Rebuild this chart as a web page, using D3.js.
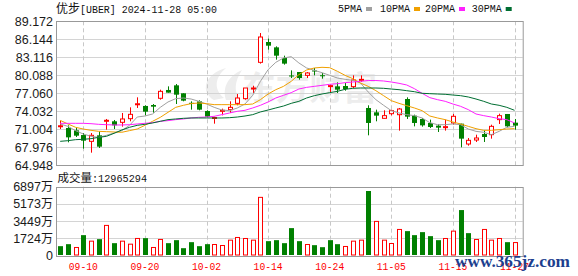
<!DOCTYPE html>
<html>
<head>
<meta charset="utf-8">
<script src="https://cdn.jsdelivr.net/npm/d3@7"></script>
<style>
  body { margin: 0; background: #fff; }
  svg { display: block; }
</style>
</head>
<body>
<svg id="chart" width="578" height="276"></svg>
<script>
// trading days shown (2024)
const dates = [
  "09-05","09-06","09-09","09-10","09-11","09-12","09-13","09-16","09-17","09-18",
  "09-19","09-20","09-23","09-24","09-25","09-26","09-27","09-30","10-01","10-02",
  "10-03","10-04","10-07","10-08","10-09","10-10","10-11","10-14","10-15","10-16",
  "10-17","10-18","10-21","10-22","10-23","10-24","10-25","10-28","10-29","10-30",
  "10-31","11-01","11-04","11-05","11-06","11-07","11-08","11-11","11-12","11-13",
  "11-14","11-15","11-18","11-19","11-20","11-21","11-22","11-25","11-26","11-27"
];

const open = [
  71.45,71.22,70.83,70.04,68.98,69.99,72.48,72.35,72.18,72.79,
  75.24,74.93,75.09,76.22,77.62,78.40,77.06,75.46,75.71,74.08,
  72.95,74.15,74.31,75.37,76.16,77.90,82.27,85.69,84.79,83.00,
  80.06,80.64,80.08,80.90,80.10,78.30,78.23,78.29,78.18,79.38,
  74.59,73.86,72.85,73.63,73.46,76.10,73.30,72.74,72.07,71.62,
  71.40,72.07,71.95,68.53,69.20,70.21,70.10,72.63,73.58,72.12
];
const high = [
  72.45,71.67,71.22,70.38,70.38,70.66,72.74,72.57,73.75,74.70,
  76.38,75.04,75.26,77.67,78.23,78.62,77.06,75.71,75.88,74.20,
  73.13,74.48,75.71,76.94,77.95,78.34,87.20,86.25,84.96,83.39,
  80.92,80.64,80.64,81.32,80.48,78.51,78.90,78.79,80.08,80.08,
  75.04,74.31,74.20,74.31,74.59,76.38,73.47,72.91,72.63,71.90,
  72.63,73.58,71.95,69.54,70.10,70.83,71.78,73.63,73.58,72.74
];
const low = [
  71.05,68.81,69.71,67.75,67.07,67.86,70.94,71.05,71.45,72.35,
  74.59,73.35,73.80,75.99,77.17,75.26,75.71,74.31,74.20,73.02,
  71.95,73.35,73.75,75.04,75.99,77.11,82.05,84.40,82.72,81.88,
  79.63,79.35,79.63,80.08,79.52,77.11,77.11,77.50,77.95,78.96,
  69.99,72.35,72.85,73.35,70.78,72.74,71.50,71.45,71.22,70.55,
  70.78,71.78,67.97,68.25,68.87,68.87,69.43,71.90,71.34,70.94
];
const close = [
  71.60,69.65,69.93,69.09,69.99,68.08,72.52,71.67,72.74,73.52,
  75.30,73.97,74.81,77.39,77.17,76.83,75.82,75.40,74.31,73.13,
  72.99,74.20,74.70,76.27,77.95,77.95,86.53,85.07,83.39,82.05,
  80.00,79.63,80.48,80.85,80.08,78.35,77.67,77.78,79.30,79.41,
  72.07,73.30,73.30,74.14,74.42,73.13,72.07,71.67,71.39,71.28,
  71.45,73.19,69.43,69.15,69.54,69.71,71.50,73.30,71.50,71.62
];

const ma5 = [
  71.90,71.50,70.78,70.21,69.82,69.65,69.99,70.38,70.78,71.67,
  73.07,73.24,73.58,74.70,75.60,76.16,76.27,76.10,75.71,75.26,
  74.70,74.25,74.14,74.59,75.26,76.72,79.07,81.04,82.27,83.00,
  83.22,82.16,81.32,80.92,80.53,80.08,79.63,79.41,79.24,78.79,
  77.28,75.99,75.04,74.14,73.75,73.47,73.30,72.91,72.12,71.78,
  71.78,71.90,71.78,71.05,70.66,70.50,70.10,70.66,71.34,71.50
];
const ma10 = [
  72.51,71.90,71.34,71.05,70.83,70.66,70.61,70.55,70.50,70.78,
  71.05,71.67,72.35,73.02,73.86,74.70,75.04,75.32,75.43,75.32,
  75.15,75.15,75.15,75.15,75.15,75.26,75.99,76.94,77.67,78.23,
  79.07,80.20,80.98,81.32,81.43,81.37,80.76,80.08,79.52,78.79,
  78.23,77.50,76.66,75.82,75.37,74.98,74.59,74.14,73.24,72.91,
  72.63,72.23,71.90,71.50,71.11,70.83,70.83,70.94,71.05,71.11
];
const ma20 = [
  72.01,72.01,72.01,72.01,71.95,71.84,71.78,71.73,71.73,71.78,
  71.90,72.01,72.12,72.35,72.46,72.63,72.74,72.91,73.02,73.07,
  73.19,73.47,73.75,74.03,74.20,74.59,75.04,75.60,76.27,76.72,
  77.17,77.78,78.06,78.23,78.40,78.57,78.68,78.85,78.96,79.07,
  79.21,79.21,79.13,78.96,78.74,78.46,77.84,77.06,76.33,75.99,
  75.71,75.26,74.87,74.31,73.58,73.30,73.07,72.79,72.63,72.07
];
const ma30 = [
  68.98,69.09,69.26,69.32,69.43,69.65,69.82,70.33,70.89,71.34,
  71.67,71.84,72.07,72.35,72.63,72.74,72.85,72.91,72.91,72.91,
  72.91,72.91,72.96,73.07,73.24,73.47,73.92,74.25,74.59,74.92,
  75.37,75.71,76.27,76.66,76.94,77.17,77.39,77.73,77.90,77.95,
  77.95,77.95,77.90,77.78,77.67,77.50,77.33,77.06,77.00,76.94,
  76.89,76.77,76.66,76.44,76.10,75.71,75.26,75.04,74.70,74.20
];

// volume in 万 shares, and whether the bar is drawn red (close above previous close)
const volume = [
  935,1136,804,2041,1438,1639,3016,1237,1438,1136,
  1709,1739,804,1609,1237,1538,734,1337,935,1136,
  1103,1002,1538,1807,1706,1538,5828,1438,1538,1237,
  2745,1438,1103,1036,834,1538,1136,905,1438,1538,
  6465,3418,1538,1203,2611,2443,2041,2343,1940,1538,
  1706,2443,4554,2242,1605,2611,1538,1706,1337,1297
];
const volumeUp = [
  0,0,1,0,1,0,1,0,1,1,
  1,0,1,1,0,0,0,0,0,0,
  1,1,1,1,1,1,1,0,0,0,
  0,0,1,0,0,0,0,1,1,1,
  0,1,1,1,1,0,0,0,0,0,
  1,1,0,0,1,1,1,1,0,1
];
const lastVolume = "12965294";

const priceTicks = [64.948, 67.976, 71.004, 74.032, 77.060, 80.088, 83.116, 86.144, 89.172];
const volumeTicks = [0, 1724, 3449, 5173, 6897];
const dateTicks = ["09-10","09-20","10-02","10-14","10-24","11-05","11-15","11-27"];

const maSeries = [
  { name: "5PMA", values: ma5, color: "#a0a0a0" },
  { name: "10PMA", values: ma10, color: "#f0a000" },
  { name: "20PMA", values: ma20, color: "#ff20ff" },
  { name: "30PMA", values: ma30, color: "#006e32" }
];

const UP = "#ff0000", DOWN = "#008000";
const left = 56, right = 522.7;
const priceTop = 21.3, priceBottom = 165.3;
const volTop = 186.7, volBottom = 255.5;

const svg = d3.select("#chart");

const x = d3.scalePoint().domain(dates).range([60.2, 514.5]);
const y = d3.scaleLinear().domain([64.948, 89.172]).range([priceBottom, priceTop]);
const yv = d3.scaleLinear().domain([0, 6897]).range([volBottom, volTop]);
const cx = (i) => Math.round(x(dates[i])) + 0.5;

// watermark
let wm = svg.append("g").attr("fill", "#ededed");
wm.append("path")
  .attr("d", "M214,100 C200,92 204,74 226,68 C214,78 214,90 224,98 Z M226,100 C222,88 228,76 242,70 C234,82 234,92 240,100 Z");
wm.append("text")
  .attr("x", 242).attr("y", 100)
  .attr("font-family", "'Noto Sans CJK SC'")
  .attr("font-size", 33).attr("font-weight", "bold")
  .attr("textLength", 135).attr("lengthAdjust", "spacingAndGlyphs")
  .text("东方财富");

// horizontal grid
svg.append("g").selectAll("line")
  .data(priceTicks.slice(1, -1))
  .enter().append("line")
  .attr("x1", left).attr("x2", right)
  .attr("y1", (d) => Math.round(y(d)) + 0.5).attr("y2", (d) => Math.round(y(d)) + 0.5)
  .attr("stroke", "#d4d4d4");

svg.append("g").selectAll("line")
  .data(volumeTicks.slice(1, -1))
  .enter().append("line")
  .attr("x1", left).attr("x2", right)
  .attr("y1", (d) => Math.round(yv(d)) + 0.5).attr("y2", (d) => Math.round(yv(d)) + 0.5)
  .attr("stroke", "#d4d4d4");

// vertical dashed grid in both panels
[[priceTop, priceBottom], [volTop, volBottom]].forEach((span) => {
  svg.append("g").selectAll("line")
    .data(dateTicks)
    .enter().append("line")
    .attr("x1", (d) => Math.round(x(d)) + 0.5).attr("x2", (d) => Math.round(x(d)) + 0.5)
    .attr("y1", span[0]).attr("y2", span[1])
    .attr("stroke", "#c8c8c8")
    .attr("stroke-dasharray", "4,3");
});

// panel borders
svg.append("rect")
  .attr("x", left + 0.5).attr("y", Math.round(priceTop) + 0.5)
  .attr("width", right - left).attr("height", Math.round(priceBottom) - Math.round(priceTop))
  .attr("fill", "none").attr("stroke", "#999");
svg.append("rect")
  .attr("x", left + 0.5).attr("y", Math.round(volTop) + 0.5)
  .attr("width", right - left).attr("height", Math.round(volBottom) - Math.round(volTop))
  .attr("fill", "none").attr("stroke", "#999");

// candles
let candles = svg.append("g")
  .selectAll("g")
  .data(dates.map((d, i) => i))
  .enter()
  .append("g");

candles.append("line")
  .attr("x1", (i) => cx(i)).attr("x2", (i) => cx(i))
  .attr("y1", (i) => y(high[i])).attr("y2", (i) => y(low[i]))
  .attr("stroke", (i) => (close[i] >= open[i] ? UP : DOWN));

candles.append("rect")
  .attr("x", (i) => cx(i) - 2.5 + (close[i] >= open[i] ? 0.5 : 0))
  .attr("y", (i) => y(Math.max(open[i], close[i])))
  .attr("width", (i) => (close[i] >= open[i] ? 4 : 5))
  .attr("height", (i) => Math.max(1, Math.abs(y(open[i]) - y(close[i]))))
  .attr("fill", (i) => (close[i] >= open[i] ? "#fff" : DOWN))
  .attr("stroke", (i) => (close[i] >= open[i] ? UP : "none"));

// moving averages
let maLine = d3.line()
  .x((v, i) => x(dates[i]))
  .y((v) => y(v));

svg.append("g").selectAll("path")
  .data(maSeries)
  .enter().append("path")
  .attr("d", (s) => maLine(s.values))
  .attr("fill", "none")
  .attr("stroke", (s) => s.color)
  .attr("stroke-width", 1);

// volume bars
svg.append("g").selectAll("rect")
  .data(volume)
  .enter().append("rect")
  .attr("x", (v, i) => cx(i) - 2.5 + (volumeUp[i] ? 0.5 : 0))
  .attr("y", (v) => yv(v))
  .attr("width", (v, i) => (volumeUp[i] ? 4 : 5))
  .attr("height", (v) => yv(0) - yv(v) - 0.5)
  .attr("fill", (v, i) => (volumeUp[i] ? "#fff" : DOWN))
  .attr("stroke", (v, i) => (volumeUp[i] ? UP : "none"));

// price axis labels
svg.append("g").selectAll("text")
  .data(priceTicks)
  .enter().append("text")
  .attr("x", 53).attr("y", (d) => y(d) + 4.5)
  .attr("text-anchor", "end")
  .attr("font-family", "'Liberation Sans', Arial, sans-serif")
  .attr("font-size", 12.5)
  .attr("fill", "#1a1a1a")
  .text((d) => d.toFixed(3));

// volume axis labels
let vLabels = svg.append("g").selectAll("text")
  .data(volumeTicks)
  .enter().append("text")
  .attr("x", 53).attr("y", (d) => yv(d) + 4.5)
  .attr("text-anchor", "end")
  .attr("font-family", "'Liberation Sans', Arial, sans-serif")
  .attr("font-size", 12.5)
  .attr("fill", "#1a1a1a");
vLabels.append("tspan").text((d) => d);
vLabels.filter((d) => d > 0).append("tspan")
  .attr("font-family", "'Noto Sans CJK SC'")
  .attr("font-size", 12)
  .text("万");

// date labels
svg.append("g").selectAll("text")
  .data(dateTicks)
  .enter().append("text")
  .attr("x", (d) => x(d)).attr("y", 270)
  .attr("text-anchor", "middle")
  .attr("font-family", "'Liberation Mono', monospace")
  .attr("font-size", 11)
  .attr("textLength", 29).attr("lengthAdjust", "spacingAndGlyphs")
  .attr("fill", "#ff0000")
  .text((d) => d);

// title
let title = svg.append("text")
  .attr("x", 56).attr("y", 12.5)
  .attr("fill", "#111");
title.append("tspan")
  .attr("font-family", "'Noto Sans CJK SC'")
  .attr("font-size", 12)
  .text("优步");
title.append("tspan")
  .attr("font-family", "'Liberation Mono', monospace")
  .attr("font-size", 11)
  .attr("textLength", 137).attr("lengthAdjust", "spacingAndGlyphs")
  .text("[UBER] 2024-11-28 05:00");

// legend
let legendX = [338, 380, 425, 471.7];
let legend = svg.append("g").selectAll("g")
  .data(maSeries)
  .enter().append("g")
  .attr("transform", (s, i) => "translate(" + legendX[i] + ",0)");
legend.append("text")
  .attr("x", 0).attr("y", 12)
  .attr("font-family", "'Liberation Mono', monospace")
  .attr("font-size", 10)
  .attr("fill", "#111")
  .text((s) => s.name);
legend.append("rect")
  .attr("x", (s) => s.name.length * 6 + 4).attr("y", 7)
  .attr("width", 6).attr("height", 4)
  .attr("fill", (s) => s.color);

// volume header
let vTitle = svg.append("text")
  .attr("x", 57.5).attr("y", 182)
  .attr("fill", "#111");
vTitle.append("tspan")
  .attr("font-family", "'Noto Sans CJK SC'")
  .attr("font-size", 11.5)
  .text("成交量");
vTitle.append("tspan")
  .attr("font-family", "'Liberation Mono', monospace")
  .attr("font-size", 10.5)
  .attr("textLength", 55).attr("lengthAdjust", "spacingAndGlyphs")
  .text(":" + lastVolume);

// site mark (drawn over the last date labels, as in the source image)
svg.append("text")
  .attr("x", 455).attr("y", 266.5)
  .attr("font-family", "'Liberation Serif', serif")
  .attr("font-weight", "bold")
  .attr("font-size", 17)
  .attr("textLength", 115).attr("lengthAdjust", "spacingAndGlyphs")
  .attr("fill", "#1d3f8f")
  .text("www.365jz.com");
</script>
</body>
</html>
